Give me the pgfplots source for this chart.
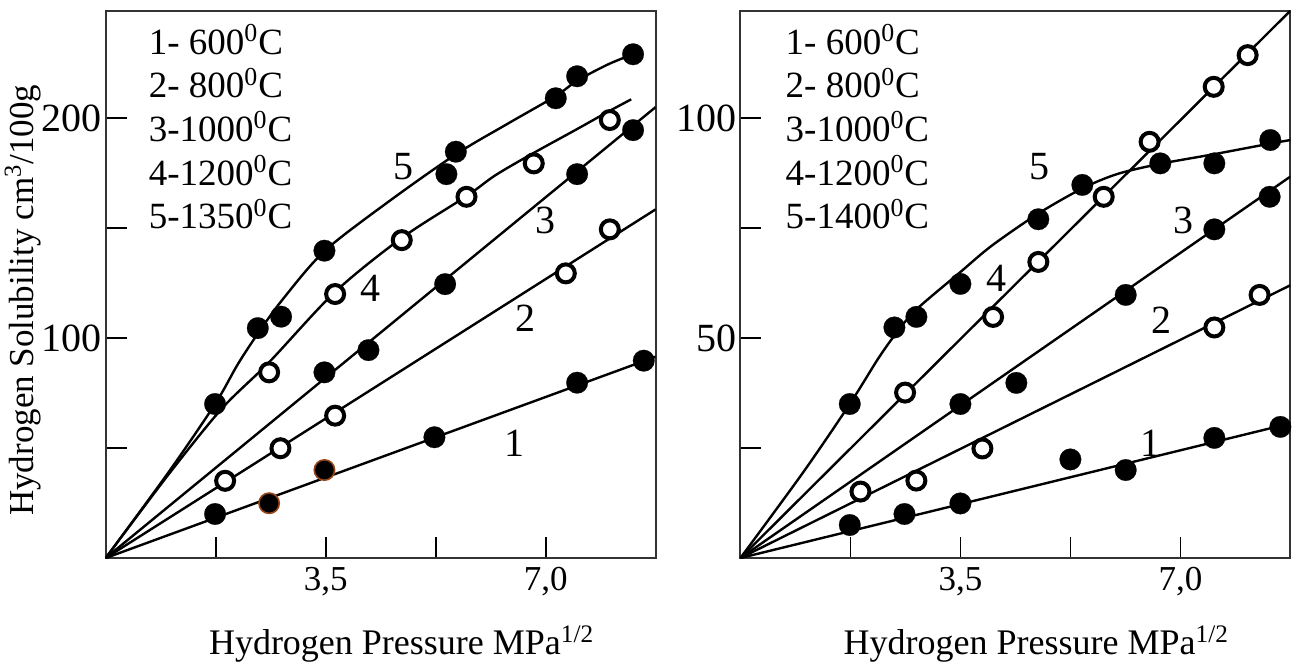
\documentclass[border=0pt]{standalone}
\usepackage{pgfplots}
\pgfplotsset{compat=1.18}
\usepackage{fontspec}
\setmainfont{Liberation Serif}
\definecolor{brownedge}{RGB}{150,70,25}
\newcommand\lgf{\fontsize{18.5pt}{21pt}\selectfont}
\newcommand\cvf{\fontsize{20pt}{22pt}\selectfont}
\pgfplotsset{
  panel/.style={
    width=275pt, height=273.65pt, scale only axis,
    xmin=0, xmax=8.75, ymin=0,
    axis line style={draw=black!80, line width=1pt},
    tick align=inside, xtick pos=left, ytick pos=left,
    major tick length=10.5pt,
    every tick/.style={draw=black, line width=0.9pt},
    xtick={1.75,3.5,5.25,7},
    xticklabels={,{3,5},,{7,0}},
    xticklabel style={font=\fontsize{17.5pt}{19pt}\selectfont, anchor=base, yshift=-16pt},
    yticklabel style={font=\fontsize{20pt}{22pt}\selectfont, anchor=east, inner sep=0pt, xshift=-2pt},
    xlabel={Hydrogen Pressure MPa\textsuperscript{1/2}},
    xlabel style={font=\fontsize{18pt}{20pt}\selectfont, at={(axis description cs:0.538,-0.1772)}, anchor=base},
    clip mode=individual,
  },
  fitline/.style={black, line width=1.2pt, no markers},
  fmark/.style={only marks, mark=*, mark size=5.4pt, mark options={fill=black, draw=black, line width=0.1pt}},
  bmark/.style={only marks, mark=*, mark size=5.1pt, mark options={fill=black, draw=brownedge, line width=0.8pt}},
  omark/.style={only marks, mark=*, mark size=4.5pt, mark options={fill=white, draw=black, line width=2pt}},
}
\begin{document}
\begin{tikzpicture}
\path[use as bounding box] (-52.85pt,-51.5pt) rectangle (593.15pt,279pt);
% ---------------- left panel ----------------
\begin{axis}[panel, at={(0pt,0pt)}, anchor=south west,
  ymax=248.8,
  ytick={50,100,150,200}, yticklabels={,100,,200},
  ylabel={Hydrogen Solubility cm\textsuperscript{3}/100g},
  ylabel style={font=\fontsize{17.5pt}{19pt}\selectfont, at={(axis description cs:-0.1316,0.471)}, anchor=base},
]
\addplot[fitline] coordinates {(0,0) (8.75,91.5)};
\addplot[fitline] coordinates {(0,0) (8.75,158.5)};
\addplot[fitline] coordinates {(0,0) (8.75,205)};
\addplot[fitline, smooth] coordinates {(0,0) (1.0,38) (1.85,68) (2.6,89) (3.65,121) (4.71,145.5) (5.74,164.5) (6.2,174) (6.8,184) (7.5,195) (8.0,203) (8.36,208.5)};
\addplot[fitline, smooth] coordinates {(0,0) (1.0,39) (1.74,70) (2.1,88) (2.42,102) (2.8,117) (3.48,139.5) (4.5,162) (5.57,183.5) (6.4,197.5) (7.16,210) (7.5,217) (8.0,224.5) (8.39,229)};
% curve 1
\addplot[fmark] coordinates {(1.74,20) (5.23,54.9) (7.50,79.7) (8.56,89.7)};
\addplot[bmark] coordinates {(2.60,24.9) (3.48,40)};
% curve 2
\addplot[omark] coordinates {(1.90,35.1) (2.78,49.9) (3.65,64.7) (7.32,129.4) (8.02,149.4)};
% curve 3
\addplot[fmark] coordinates {(3.48,84.4) (4.18,94.5) (5.40,124.5) (7.50,174.5) (8.39,194.5)};
% curve 4
\addplot[omark] coordinates {(2.60,84.4) (3.65,120) (4.71,144.5) (5.74,164.2) (6.81,179.4) (8.02,199.1)};
% curve 5
\addplot[fmark] coordinates {(1.74,70) (2.42,104.5) (2.79,109.7) (3.48,139.7) (5.42,174.5) (5.57,184.7) (7.16,209) (7.50,219) (8.39,229)};
% curve labels
\node[font=\cvf] at (axis cs:4.73,177.9) {5};
\node[font=\cvf] at (axis cs:4.22,122.6) {4};
\node[font=\cvf] at (axis cs:6.99,153.6) {3};
\node[font=\cvf] at (axis cs:6.68,108.9) {2};
\node[font=\cvf] at (axis cs:6.50,52.1) {1};
% legend text
\node[font=\lgf, anchor=base west, inner sep=0pt] at (axis cs:0.68,229.1) {1- 600\textsuperscript{0}C};
\node[font=\lgf, anchor=base west, inner sep=0pt] at (axis cs:0.68,209.2) {2- 800\textsuperscript{0}C};
\node[font=\lgf, anchor=base west, inner sep=0pt] at (axis cs:0.68,189.4) {3-1000\textsuperscript{0}C};
\node[font=\lgf, anchor=base west, inner sep=0pt] at (axis cs:0.68,169.5) {4-1200\textsuperscript{0}C};
\node[font=\lgf, anchor=base west, inner sep=0pt] at (axis cs:0.68,149.7) {5-1350\textsuperscript{0}C};
\end{axis}
% ---------------- right panel ----------------
\begin{axis}[panel, at={(317.35pt,0pt)}, anchor=south west,
  ymax=124.4,
  ytick={25,50,75,100}, yticklabels={,50,,100},
]
\addplot[fitline] coordinates {(0,0) (8.75,30.6)};
\addplot[fitline] coordinates {(0,0) (8.75,62)};
\addplot[fitline] coordinates {(0,0) (8.75,86.7)};
\addplot[fitline] coordinates {(0,0) (8.75,124.4)};
\addplot[fitline, smooth] coordinates {(0,0) (1.0,19.5) (1.74,35) (2.2,45.5) (2.5,51.5) (2.8,56.5) (3.5,65) (4.0,71) (4.74,78.3) (5.44,84) (6.0,87.3) (6.68,89.6) (7.54,91.8) (8.43,94.2) (8.75,95)};
% curve 1
\addplot[fmark] coordinates {(1.74,7.5) (2.61,10.0) (3.50,12.4) (5.25,22.4) (6.13,20.0) (7.54,27.3) (8.59,29.8)};
% curve 2
\addplot[omark] coordinates {(1.91,15.1) (2.80,17.6) (3.85,24.9) (7.54,52.4) (8.26,59.8)};
% curve 3
\addplot[fmark] coordinates {(3.50,35.0) (4.39,39.8) (6.13,59.8) (7.54,74.7) (8.42,82.1)};
% curve 4
\addplot[omark] coordinates {(2.62,37.6) (4.02,54.8) (4.74,67.3) (5.78,82.1) (6.51,94.6) (7.53,107.1) (8.07,114.3)};
% curve 5
\addplot[fmark] coordinates {(1.74,35.0) (2.45,52.4) (2.80,54.8) (3.50,62.3) (4.74,77.0) (5.44,84.8) (6.68,89.7) (7.54,89.7) (8.43,95.0)};
% curve labels
\node[font=\cvf] at (axis cs:4.76,88.9) {5};
\node[font=\cvf] at (axis cs:4.07,63.6) {4};
\node[font=\cvf] at (axis cs:7.05,76.8) {3};
\node[font=\cvf] at (axis cs:6.70,54.1) {2};
\node[font=\cvf] at (axis cs:6.53,26.1) {1};
% legend text
\node[font=\lgf, anchor=base west, inner sep=0pt] at (axis cs:0.714,114.5) {1- 600\textsuperscript{0}C};
\node[font=\lgf, anchor=base west, inner sep=0pt] at (axis cs:0.714,104.6) {2- 800\textsuperscript{0}C};
\node[font=\lgf, anchor=base west, inner sep=0pt] at (axis cs:0.714,94.7) {3-1000\textsuperscript{0}C};
\node[font=\lgf, anchor=base west, inner sep=0pt] at (axis cs:0.714,84.7) {4-1200\textsuperscript{0}C};
\node[font=\lgf, anchor=base west, inner sep=0pt] at (axis cs:0.714,74.8) {5-1400\textsuperscript{0}C};
\end{axis}
\end{tikzpicture}
\end{document}
